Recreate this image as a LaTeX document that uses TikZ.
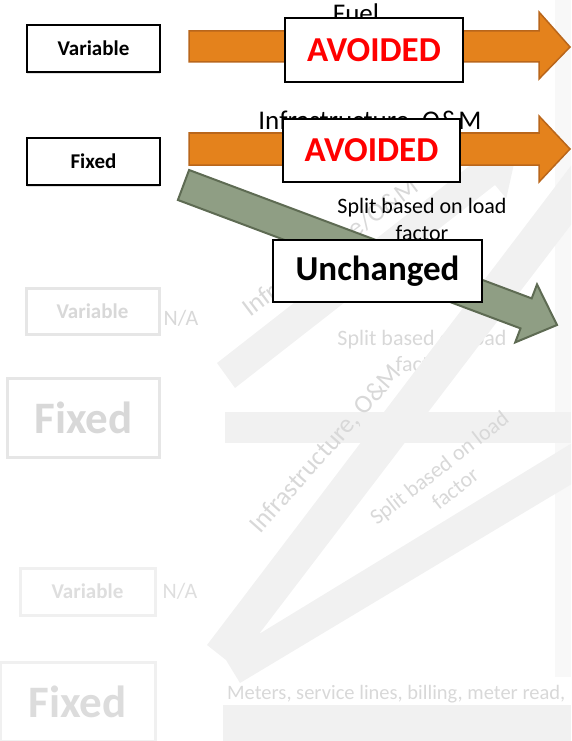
\documentclass[tikz,border=0pt]{standalone}
\usepackage{fontspec}
\setmainfont{Carlito}
\usetikzlibrary{shadows}

\definecolor{orangefill}{HTML}{E4821C}
\definecolor{orangeline}{HTML}{B9661B}
\definecolor{greenfill}{HTML}{8F9E84}
\definecolor{greenline}{HTML}{5E6B53}
\definecolor{ghostband}{HTML}{F1F1F1}
\definecolor{ghostcol}{HTML}{F8F8F8}
\definecolor{ghosttext}{HTML}{D8D8D8}
\definecolor{ghostline}{HTML}{E6E6E6}
\definecolor{avoidred}{HTML}{FF0000}

\tikzset{
  costbox/.style={draw=black, line width=2.2pt, fill=white, inner sep=0pt,
    minimum width=133pt, minimum height=47pt,
    font=\fontsize{21}{25}\selectfont\bfseries,
    drop shadow={opacity=0.25, shadow xshift=0pt, shadow yshift=-2pt}},
  ghostbox/.style={draw=ghostline, line width=3pt, fill=white, inner sep=0pt,
    text=ghosttext, font=\fontsize{21}{25}\selectfont\bfseries},
  ghostbig/.style={ghostbox, font=\fontsize{45}{50}\selectfont\bfseries},
  ghosttxt/.style={text=ghosttext, inner sep=0pt, font=\fontsize{22}{26}\selectfont},
  stamp/.style={draw=black, fill=white, inner sep=0pt,
    font=\fontsize{35}{40}\selectfont\bfseries},
  label/.style={inner sep=0pt, font=\fontsize{27}{31}\selectfont},
  note/.style={inner sep=0pt, align=center, font=\fontsize{22}{27}\selectfont},
  blockarrow/.style={fill=orangefill, draw=orangeline, line width=1.5pt, line join=miter},
  keeparrow/.style={fill=greenfill, draw=greenline, line width=2pt, line join=miter}
}

\begin{document}
\begin{tikzpicture}[x=1pt, y=-1pt]
\useasboundingbox (0,0) rectangle (571,741);
\clip (0,0) rectangle (571,741);

% ---- faded background layer ----
\fill[ghostcol] (555,0) rectangle (571,677);
\node[ghosttxt, align=center] (gsplit) at (422,351) {Split based on load\\factor};
\fill[ghostband] (225,412) rectangle (571,443);
\fill[ghostband] (223,705) rectangle (571,741);
% V-shaped band
\fill[ghostband] (207,645) -- (583,150) -- (628,150) -- (259,634) -- (600,426)
  -- (600,467) -- (240,683) -- (226,660) -- cycle;
% upper diagonal block arrow
\fill[ghostband] (217,363) -- (477,160) -- (465.7,146.5) -- (517.5,148)
  -- (506.3,198.5) -- (495,185) -- (235,388) -- cycle;

\node[ghosttxt, font=\fontsize{26}{30}\selectfont, rotate=37, anchor=base west]
  (ginfra1) at (250,318) {Infrastructure/O\&M};
\node[ghosttxt, font=\fontsize{26}{30}\selectfont, rotate=48.5, anchor=base west]
  (ginfra2) at (260,535) {Infrastructure, O\&M};
\node[ghosttxt, align=center, rotate=38] (gsplit2) at (447,478) {Split based on load\\factor};
\node[ghosttxt, anchor=base west, font=\fontsize{20.5}{25}\selectfont]
  (gmeters) at (227,699) {Meters, service lines, billing, meter read,};

\node[ghostbox, minimum width=133pt, minimum height=46pt] (gvar1) at (92.5,311) {Variable};
\node[ghosttxt] (gna1) at (181,318) {N/A};
\node[ghostbig, minimum width=152pt, minimum height=79pt] (gfix1) at (83.5,418) {Fixed};
\node[ghostbox, draw=ghostline!60, text=ghosttext!85, minimum width=135pt, minimum height=47pt]
  (gvar2) at (87.5,591.5) {Variable};
\node[ghosttxt, text=ghosttext!85] (gna2) at (180,591) {N/A};
\node[ghostbig, draw=ghostline!60, text=ghosttext!90, minimum width=155pt, minimum height=79pt]
  (gfix2) at (77.5,702) {Fixed};

% ---- cost categories ----
\node[costbox] (var) at (93.5,48.5) {Variable};
\node[costbox] (fix) at (93.5,161.5) {Fixed};

\node[label, anchor=base] (fuel) at (356,23) {Fuel};
\node[label, anchor=base] (infra) at (370,130) {Infrastructure, O\&M};
\node[note] (split) at (422,219) {Split based on load\\factor};

% block arrows
\fill[blockarrow] (189,31) -- (539,31) -- (539,12) -- (570,47) -- (539,79)
  -- (539,62) -- (189,62) -- cycle;
\fill[blockarrow] (189,133) -- (539,133) -- (539,116) -- (570,149) -- (539,182)
  -- (539,165) -- (189,165) -- cycle;
\fill[keeparrow] (189.1,170) -- (531.7,298.4) -- (537,284.4) -- (557,325)
  -- (515.2,342.4) -- (520.5,328.4) -- (177.9,200) -- cycle;

% outcome stamps
\node[stamp, line width=1.5pt, text=avoidred, minimum width=178pt, minimum height=64pt]
  (avoid1) at (374,50) {AVOIDED};
\node[stamp, line width=1.5pt, text=avoidred, minimum width=177pt, minimum height=63pt]
  (avoid2) at (371.5,150.5) {AVOIDED};
\node[stamp, line width=2pt, minimum width=209pt, minimum height=62pt]
  (same) at (377.5,271) {Unchanged};
\end{tikzpicture}
\end{document}
